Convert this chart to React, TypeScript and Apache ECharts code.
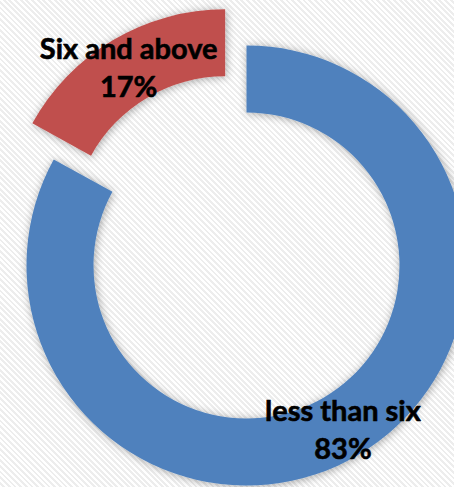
import React, { useEffect, useRef } from "react";
import * as echarts from "echarts";

const categories = ["less than six", "Six and above"];
const values = [83, 17];
const colors = ["#4F81BD", "#C0504D"];

export default function App() {
  const ref = useRef<HTMLDivElement>(null);
  useEffect(() => {
    if (!ref.current) return;
    const chart = echarts.init(ref.current, null, { renderer: "svg" });
    chart.setOption({
      animation: false,
      series: [
        {
          type: "pie",
          center: [246.5, 265.5],
          radius: [153, 220],
          startAngle: 90,
          clockwise: true,
          selectedMode: "single",
          selectedOffset: 42,
          avoidLabelOverlap: false,
          label: {
            show: true,
            position: "inside",
            formatter: (p: any) => `${p.name}\n${p.value}%`,
            color: "#000",
            fontFamily: "Lato",
            fontWeight: "bold",
            fontSize: 29,
            lineHeight: 38,
            textBorderColor: "#000",
            textBorderWidth: 0.6,
          },
          labelLine: { show: false },
          emphasis: { disabled: true },
          itemStyle: {
            shadowBlur: 8,
            shadowColor: "rgba(0,0,0,0.35)",
            shadowOffsetX: 1,
            shadowOffsetY: 1,
          },
          data: categories.map((name, i) => ({
            name,
            value: values[i],
            selected: i === 1,
            itemStyle: { color: colors[i] },
          })),
        },
      ],
    });
    return () => chart.dispose();
  }, []);
  return (
    <div
      ref={ref}
      style={{
        position: "fixed",
        left: 0,
        top: 0,
        width: 454,
        height: 487,
        background:
          "repeating-linear-gradient(45deg, #ffffff 0px, #ffffff 2px, #ededed 2px, #ededed 4px)",
      }}
    />
  );
}
